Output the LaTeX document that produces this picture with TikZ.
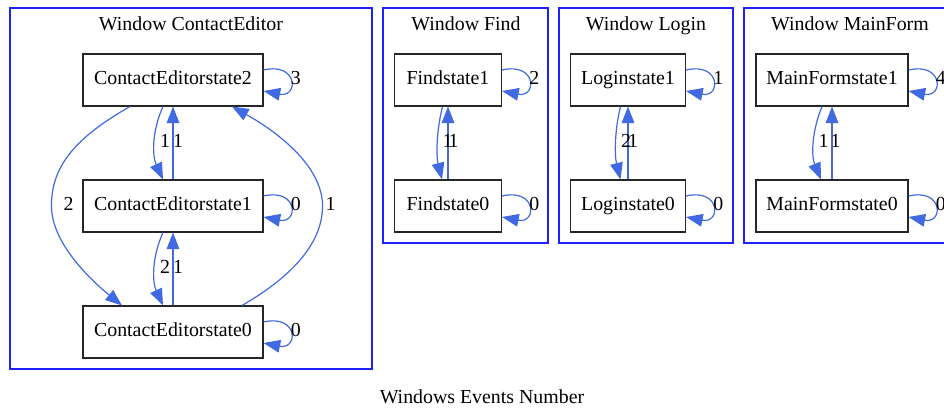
\documentclass[tikz,border=0pt]{standalone}
\usepackage{fontspec}
\setmainfont{Liberation Serif}
\usetikzlibrary{arrows.meta,calc}
\definecolor{rblue}{HTML}{4169E1}
\definecolor{cblue}{HTML}{2020FF}
\newcommand{\selfloop}[2]{%
  \draw[edge] ($(#1.east)+(0,-10)$) .. controls +(35,-8) and +(35,7) .. ($(#1.east)+(0,11)$);
  \node[lbl,anchor=west] (#1lbl) at ($(#1.east)+(27,0)$) {#2};}
\begin{document}
\begin{tikzpicture}[x=0.75pt,y=-0.75pt,
  every node/.style={font=\fontsize{14.9}{17}\selectfont, text height=10pt, text depth=3pt},
  st/.style={draw=black!85, line width=0.8pt, minimum height=39pt, inner sep=0pt},
  edge/.style={draw=rblue, line width=0.9pt, -{Triangle[length=12.5pt,width=9.5pt,fill=rblue]}},
  lbl/.style={inner sep=0pt},
  cluster/.style={draw=cblue, line width=1pt},
]
\useasboundingbox (0,0) rectangle (944,410);
\clip (0,0) rectangle (944,410);

% clusters
\draw[cluster] (10,8) rectangle (372,369);
\draw[cluster] (383,8) rectangle (548,243);
\draw[cluster] (559,8) rectangle (733,243);
\draw[cluster] (744,8) rectangle (956,243);

\node (tce) at (191,26) {Window ContactEditor};
\node (tf) at (466,26) {Window Find};
\node (tl) at (646,26) {Window Login};
\node (tm) at (850,26) {Window MainForm};

% nodes
\node[st, minimum width=135pt] (ce2) at (173,80) {ContactEditorstate2};
\node[st, minimum width=135pt] (ce1) at (173,206) {ContactEditorstate1};
\node[st, minimum width=135pt] (ce0) at (173,332) {ContactEditorstate0};
\node[st, minimum width=80.25pt] (f1) at (448,80) {Findstate1};
\node[st, minimum width=80.25pt] (f0) at (448,206) {Findstate0};
\node[st, minimum width=86.25pt] (l1) at (628,80) {Loginstate1};
\node[st, minimum width=86.25pt] (l0) at (628,206) {Loginstate0};
\node[st, minimum width=114pt] (m1) at (832,80) {MainFormstate1};
\node[st, minimum width=114pt] (m0) at (832,206) {MainFormstate0};

% self loops
\selfloop{ce2}{3}
\selfloop{ce1}{0}
\selfloop{ce0}{0}
\selfloop{f1}{2}
\selfloop{f0}{0}
\selfloop{l1}{1}
\selfloop{l0}{0}
\selfloop{m1}{4}
\selfloop{m0}{0}

% ContactEditor edges
\draw[edge] ($(ce2.south)+(-10,0)$) .. controls +(-11,24) and +(-11,-24) .. ($(ce1.north)+(-10,0)$);
\draw[edge] (ce1.north) -- (ce2.south);
\node[lbl] (ce21a) at ($(ce2.south)!0.5!(ce1.north)+(-8,0)$) {1};
\node[lbl] (ce21b) at ($(ce2.south)!0.5!(ce1.north)+(5,0)$) {1};

\draw[edge] ($(ce1.south)+(-10,0)$) .. controls +(-11,24) and +(-11,-24) .. ($(ce0.north)+(-10,0)$);
\draw[edge] (ce0.north) -- (ce1.south);
\node[lbl] (ce10a) at ($(ce1.south)!0.5!(ce0.north)+(-8,0)$) {2};
\node[lbl] (ce10b) at ($(ce1.south)!0.5!(ce0.north)+(5,0)$) {1};

\draw[edge] ($(ce2.south)+(-43,0)$) .. controls +(-60,34) and +(0,-36) .. ($(ce1.west)+(-31,0)$)
  .. controls +(0,39) and +(-27,-22) .. ($(ce0.north)+(-51,0)$);
\node[lbl] (ce20) at ($(ce1.west)+(-14,0)$) {2};

\draw[edge] ($(ce0.north)+(69,0)$) .. controls +(38,-22) and +(0,44) .. ($(ce1.east)+(59,0)$)
  .. controls +(0,-41) and +(43,24) .. ($(ce2.south)+(59,0)$);
\node[lbl] (ce02) at ($(ce1.east)+(67,0)$) {1};

% Find edges
\draw[edge] ($(f1.south)+(-5.5,0)$) .. controls +(-6,24) and +(-6,-24) .. ($(f0.north)+(-6,0)$);
\draw[edge] (f0.north) -- (f1.south);
\node[lbl] (fa) at ($(f1.south)!0.5!(f0.north)+(-0.5,0)$) {1};
\node[lbl] (fb) at ($(f1.south)!0.5!(f0.north)+(5.5,0)$) {1};

% Login edges
\draw[edge] ($(l1.south)+(-7.5,0)$) .. controls +(-6,24) and +(-6,-24) .. ($(l0.north)+(-7.5,0)$);
\draw[edge] (l0.north) -- (l1.south);
\node[lbl] (la) at ($(l1.south)!0.5!(l0.north)+(-2,0)$) {2};
\node[lbl] (lb) at ($(l1.south)!0.5!(l0.north)+(5,0)$) {1};

% MainForm edges
\draw[edge] ($(m1.south)+(-10,0)$) .. controls +(-10,24) and +(-10,-24) .. ($(m0.north)+(-11,0)$);
\draw[edge] (m0.north) -- (m1.south);
\node[lbl] (ma) at ($(m1.south)!0.5!(m0.north)+(-8.5,0)$) {1};
\node[lbl] (mb) at ($(m1.south)!0.5!(m0.north)+(3.5,0)$) {1};

\node (caption) at (482,399) {Windows Events Number};
\end{tikzpicture}
\end{document}
